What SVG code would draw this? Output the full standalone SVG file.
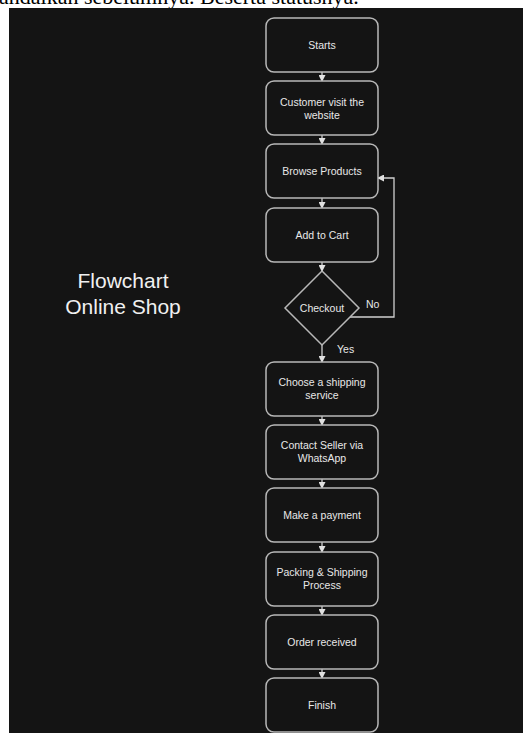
<svg xmlns="http://www.w3.org/2000/svg" width="523" height="733" viewBox="0 0 523 733">
<defs>
<style>
.box{fill:#141414;stroke:#b8b8b8;stroke-width:1.5}
.t{font-family:"Liberation Sans",Arial,sans-serif;font-size:10.5px;fill:#e8e8e8;text-anchor:middle}
.c{fill:none;stroke:#d0d0d0;stroke-width:1.3}
.lbl{font-family:"Liberation Sans",Arial,sans-serif;font-size:10.5px;fill:#e8e8e8}
</style>
<marker id="ah" markerUnits="userSpaceOnUse" markerWidth="7" markerHeight="7" refX="6" refY="3.5" orient="auto">
<path d="M0,0 L7,3.5 L0,7 z" fill="#e0e0e0"/>
</marker>
</defs>
<rect width="523" height="733" fill="#ffffff"/>
<text x="-1" y="4" font-family="Liberation Serif,serif" font-size="22" fill="#000">andalkan sebelumnya. Beserta statusnya.</text>
<rect x="9" y="8" width="514" height="725" fill="#141414"/>
<text x="123" y="288" font-family="Liberation Sans,Arial,sans-serif" font-size="21" fill="#f0f0f0" text-anchor="middle">Flowchart</text>
<text x="123" y="314" font-family="Liberation Sans,Arial,sans-serif" font-size="21" fill="#f0f0f0" text-anchor="middle">Online Shop</text>
<g id="connectors">
<line class="c" x1="322" y1="72" x2="322" y2="81" marker-end="url(#ah)"/>
<line class="c" x1="322" y1="135" x2="322" y2="144" marker-end="url(#ah)"/>
<line class="c" x1="322" y1="198" x2="322" y2="208" marker-end="url(#ah)"/>
<line class="c" x1="322" y1="262" x2="322" y2="271" marker-end="url(#ah)"/>
<line class="c" x1="322" y1="345" x2="322" y2="362" marker-end="url(#ah)"/>
<line class="c" x1="322" y1="416" x2="322" y2="425" marker-end="url(#ah)"/>
<line class="c" x1="322" y1="479" x2="322" y2="488" marker-end="url(#ah)"/>
<line class="c" x1="322" y1="542" x2="322" y2="552" marker-end="url(#ah)"/>
<line class="c" x1="322" y1="606" x2="322" y2="615" marker-end="url(#ah)"/>
<line class="c" x1="322" y1="669" x2="322" y2="678" marker-end="url(#ah)"/>
<path class="c" d="M350,317 H394 V178 H378" marker-end="url(#ah)"/>
<text class="lbl" x="366" y="308">No</text>
<text class="lbl" x="337" y="353">Yes</text>
</g>
<g id="n1"><rect class="box" x="266" y="18" width="112" height="54" rx="8"/><text class="t" x="322" y="49">Starts</text></g>
<g id="n2"><rect class="box" x="266" y="81" width="112" height="54" rx="8"/><text class="t" x="322" y="106">Customer visit the</text><text class="t" x="322" y="119">website</text></g>
<g id="n3"><rect class="box" x="266" y="144" width="112" height="54" rx="8"/><text class="t" x="322" y="175">Browse Products</text></g>
<g id="n4"><rect class="box" x="266" y="208" width="112" height="54" rx="8"/><text class="t" x="322" y="239">Add to Cart</text></g>
<g id="n5"><polygon class="box" points="322,271 359,308 322,345 285,308"/><text class="t" x="322" y="312">Checkout</text></g>
<g id="n6"><rect class="box" x="266" y="362" width="112" height="54" rx="8"/><text class="t" x="322" y="386">Choose a shipping</text><text class="t" x="322" y="399">service</text></g>
<g id="n7"><rect class="box" x="266" y="425" width="112" height="54" rx="8"/><text class="t" x="322" y="449">Contact Seller via</text><text class="t" x="322" y="462">WhatsApp</text></g>
<g id="n8"><rect class="box" x="266" y="488" width="112" height="54" rx="8"/><text class="t" x="322" y="519">Make a payment</text></g>
<g id="n9"><rect class="box" x="266" y="552" width="112" height="54" rx="8"/><text class="t" x="322" y="576">Packing &amp; Shipping</text><text class="t" x="322" y="589">Process</text></g>
<g id="n10"><rect class="box" x="266" y="615" width="112" height="54" rx="8"/><text class="t" x="322" y="646">Order received</text></g>
<g id="n11"><rect class="box" x="266" y="678" width="112" height="54" rx="8"/><text class="t" x="322" y="709">Finish</text></g>
</svg>
